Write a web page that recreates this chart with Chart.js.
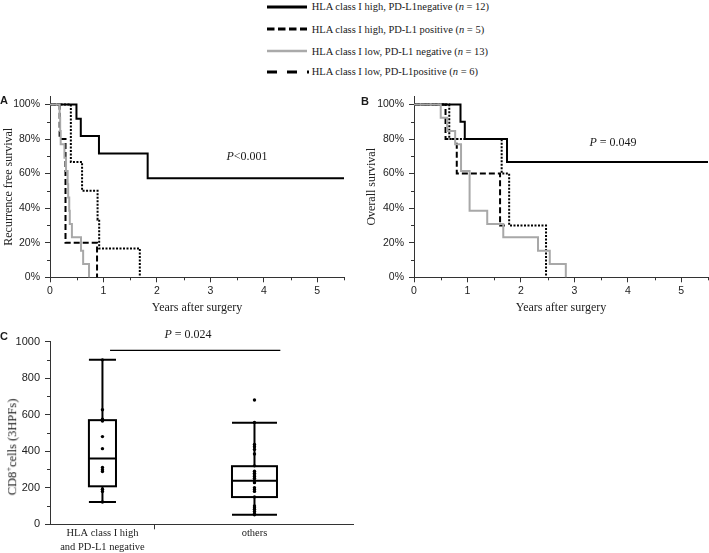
<!DOCTYPE html>
<html>
<head>
<meta charset="utf-8">
<script src="https://cdn.jsdelivr.net/npm/chart.js"></script>
<style>
  body { margin: 0; background: #fff; }
  #wrap { position: relative; width: 709px; height: 553px; overflow: hidden;
          font-family: "Liberation Serif", "Times New Roman", serif; color: #1a1a1a; }
  canvas { position: absolute; }
  .txt { position: absolute; white-space: nowrap; line-height: 1; transform: translate(-50%, -50%); }
  .panel { font-family: "Liberation Sans", Arial, sans-serif; font-weight: bold; font-size: 11px; }
  .pval { font-size: 12px; }
  .leg { position: absolute; left: 267px; height: 14px; display: flex; align-items: center; font-size: 10.5px; white-space: nowrap; }
  .leg svg { flex: none; }
</style>
</head>
<body>
<div id="wrap">
  <div id="legend"></div>

  <canvas id="chartA" width="355" height="234" style="left:0;top:85px"></canvas>
  <canvas id="chartB" width="354" height="234" style="left:355px;top:85px"></canvas>
  <canvas id="chartC" width="360" height="223" style="left:0;top:330px"></canvas>

  <div class="txt panel" style="left:4px;top:100px">A</div>
  <div class="txt panel" style="left:365px;top:101px">B</div>
  <div class="txt panel" style="left:4px;top:336px">C</div>

  <div class="txt pval" style="left:247px;top:156px"><i>P</i>&lt;0.001</div>
  <div class="txt pval" style="left:613px;top:142px"><i>P</i> = 0.049</div>
  <div class="txt pval" style="left:188px;top:334px"><i>P</i> = 0.024</div>

  <div class="txt" style="left:12px;top:447px;font-size:12.5px;transform:translate(-50%,-50%) rotate(-90deg)">CD8<sup style="font-size:8px">+</sup>cells (3HPFs)</div>
</div>

<script>
// legend
const legendLabels = [
  "HLA class I high, PD-L1negative",
  "HLA class I high, PD-L1 positive",
  "HLA class I low, PD-L1 negative",
  "HLA class I low, PD-L1positive"
];
const legendN = [12, 5, 13, 6];

// A: recurrence free survival (years, %)
const rfsHighNegT = [0, 0.495, 0.576, 0.916, 1.827, 5.5];
const rfsHighNeg  = [100, 91.7, 81.8, 71.6, 57.3, 57.3];
const rfsHighPosT = [0, 0.18, 0.29, 0.88];
const rfsHighPos  = [100, 80, 20, 0];
const rfsLowNegT  = [0, 0.18, 0.19, 0.20, 0.27, 0.30, 0.33, 0.34, 0.36, 0.37, 0.41, 0.58, 0.62, 0.73];
const rfsLowNeg   = [100, 92.3, 84.6, 76.9, 69.2, 61.5, 53.8, 46.2, 38.5, 30.8, 23.1, 15.4, 7.7, 0];
const rfsLowPosT  = [0, 0.39, 0.60, 0.89, 0.92, 1.68];
const rfsLowPos   = [100, 66.7, 50, 33.3, 16.7, 0];

// B: overall survival (years, %)
const osHighNegT = [0, 0.87, 0.95, 1.74, 5.5];
const osHighNeg  = [100, 90, 80, 66.7, 66.7];
const osHighPosT = [0, 0.59, 0.80, 1.61, 1.70];
const osHighPos  = [100, 80, 60, 30, 30];
const osLowNegT  = [0, 0.50, 0.62, 0.77, 0.88, 1.04, 1.37, 1.67, 2.32, 2.54, 2.84];
const osLowNeg   = [100, 92.3, 84.6, 76.9, 61.5, 38.5, 30.8, 23.1, 15.4, 7.7, 0];
const osLowPosT  = [0, 0.66, 1.64, 1.78, 2.47];
const osLowPos   = [100, 80, 60, 30, 0];

const yearTicks = [0, 1, 2, 3, 4, 5];
const yearMinor = [0.5, 1.5, 2.5, 3.5, 4.5, 5.5];
const survTicks = [0, 20, 40, 60, 80, 100];
const survMinor = [10, 30, 50, 70, 90];

// C: CD8+ cells
const groups = [["HLA class I high", "and PD-L1 negative"], ["others"]];
const groupPos = [1, 2];
const boxMin    = [122, 52];
const boxQ1     = [208, 149];
const boxMedian = [360, 238];
const boxQ3     = [570, 318];
const boxMax    = [900, 556];
const cd8HighNeg = [900, 627, 575, 565, 480, 414, 311, 299, 289, 192, 180, 122];
const cd8Others  = [680, 557, 437, 425, 410, 385, 320, 290, 280, 270, 262, 252,
                    240, 228, 200, 190, 180, 150, 100, 90, 82, 70, 58, 52];
const cd8Ticks = [0, 200, 400, 600, 800, 1000];
const cd8Minor = [100, 300, 500, 700, 900];
const sigBarX = [1.05, 2.17];
const sigBarY = 952;

const boxWidths = [0.178, 0.296];
const axisColor = "#333";
const textColor = "#222";
const sansTick = { family: "Liberation Sans", size: 10.5 };
const serifTitle = { family: "Liberation Serif", size: 12 };

// legend rows
const legendStyles = [
  { color: "#000", width: 3, dash: "", len: 40 },
  { color: "#000", width: 3, dash: "7.5 3.5", len: 40 },
  { color: "#aaa", width: 2.5, dash: "", len: 40 },
  { color: "#000", width: 3, dash: "10 10", len: 42 }
];
const legendY = [6.7, 29, 51, 71.7];
document.getElementById("legend").innerHTML = legendLabels.map((l, i) => {
  const s = legendStyles[i];
  return `<div class="leg" style="top:${legendY[i] - 7}px">
    <svg width="44" height="6"><line x1="0" y1="3" x2="${s.len}" y2="3" stroke="${s.color}" stroke-width="${s.width}" stroke-dasharray="${s.dash}"/></svg>
    <span style="margin-left:0.7px">${l} (<i>n</i> = ${legendN[i]})</span></div>`;
}).join("");

function steps(t, s) {
  return t.map((x, i) => ({ x, y: s[i] }));
}

// extra (minor) tick marks, drawn outward from the axis
function extraTicks(list) {
  return {
    id: "extraTicks",
    afterDraw(chart) {
      const ctx = chart.ctx;
      ctx.save();
      ctx.strokeStyle = axisColor;
      ctx.lineWidth = 1;
      list.forEach(m => {
        const s = chart.scales[m.axis];
        m.values.forEach(v => {
          const p = Math.round(s.getPixelForValue(v)) + 0.5;
          ctx.beginPath();
          if (s.isHorizontal()) {
            ctx.moveTo(p, s.top);
            ctx.lineTo(p, s.top + m.len);
          } else {
            ctx.moveTo(s.right, p);
            ctx.lineTo(s.right - m.len, p);
          }
          ctx.stroke();
        });
      });
      ctx.restore();
    }
  };
}

function drawKm(id, yTitle, yWidth, titlePad, padRight, sets) {
  const styles = [
    { borderColor: "#000", borderDash: [], order: 1 },
    { borderColor: "#000", borderDash: [6, 3], order: 2 },
    { borderColor: "#a8a8a8", borderDash: [], order: 0 },
    { borderColor: "#000", borderDash: [2, 1.5], order: 3 }
  ];
  new Chart(document.getElementById(id), {
    type: "line",
    data: {
      datasets: sets.map((d, i) => ({
        data: d,
        borderWidth: 2,
        stepped: "before",
        pointRadius: 0,
        clip: false,
        ...styles[i]
      }))
    },
    plugins: [extraTicks([
      { axis: "x", values: yearMinor, len: 3 },
      { axis: "y", values: survMinor, len: 3 }
    ])],
    options: {
      responsive: false,
      animation: false,
      layout: { padding: { top: 9, right: padRight, left: 0, bottom: 0 } },
      plugins: { legend: { display: false }, tooltip: { enabled: false } },
      scales: {
        x: {
          type: "linear", min: 0, max: 5.5,
          afterBuildTicks: s => { s.ticks = yearTicks.map(v => ({ value: v })); },
          afterFit: s => { s.height = 41.7; },
          grid: { drawOnChartArea: false, tickLength: 5, tickColor: axisColor },
          border: { color: axisColor, width: 1 },
          ticks: { padding: 3, color: textColor, font: sansTick, maxRotation: 0 },
          title: { display: true, text: "Years after surgery", color: textColor, font: serifTitle, padding: { top: 0, bottom: 4 } }
        },
        y: {
          type: "linear", min: 0, max: 104.7,
          afterBuildTicks: s => { s.ticks = survTicks.map(v => ({ value: v })); },
          afterFit: s => { s.width = yWidth; },
          grid: { drawOnChartArea: false, tickLength: 5, tickColor: axisColor },
          border: { color: axisColor, width: 1 },
          ticks: { padding: 5, color: textColor, font: sansTick, callback: v => v + "%" },
          title: { display: true, text: yTitle, color: textColor, font: serifTitle, padding: { top: titlePad, bottom: 0 } }
        }
      }
    }
  });
}

drawKm("chartA", "Recurrence free survival", 50, 1.3, 11, [
  steps(rfsHighNegT, rfsHighNeg),
  steps(rfsHighPosT, rfsHighPos),
  steps(rfsLowNegT, rfsLowNeg),
  steps(rfsLowPosT, rfsLowPos)
]);

drawKm("chartB", "Overall survival", 59, 9.5, 1, [
  steps(osHighNegT, osHighNeg),
  steps(osHighPosT, osHighPos),
  steps(osLowNegT, osLowNeg),
  steps(osLowPosT, osLowPos)
]);

// box, whiskers and median for panel C
const boxPlot = {
  id: "boxPlot",
  beforeDatasetsDraw(chart) {
    const { ctx, scales: { x, y } } = chart;
    ctx.save();
    ctx.strokeStyle = "#000";
    ctx.lineWidth = 2;
    groupPos.forEach((g, i) => {
      const cx = x.getPixelForValue(g);
      const l = x.getPixelForValue(g - boxWidths[i] / 2);
      const r = x.getPixelForValue(g + boxWidths[i] / 2);
      const yMin = y.getPixelForValue(boxMin[i]);
      const yQ1 = y.getPixelForValue(boxQ1[i]);
      const yMed = y.getPixelForValue(boxMedian[i]);
      const yQ3 = y.getPixelForValue(boxQ3[i]);
      const yMax = y.getPixelForValue(boxMax[i]);
      ctx.beginPath();
      ctx.moveTo(cx, yMax); ctx.lineTo(cx, yQ3);
      ctx.moveTo(cx, yQ1); ctx.lineTo(cx, yMin);
      ctx.moveTo(l, yMax); ctx.lineTo(r, yMax);
      ctx.moveTo(l, yMin); ctx.lineTo(r, yMin);
      ctx.moveTo(l, yMed); ctx.lineTo(r, yMed);
      ctx.stroke();
      ctx.strokeRect(l, yQ3, r - l, yQ1 - yQ3);
    });
    ctx.restore();
  }
};

new Chart(document.getElementById("chartC"), {
  type: "scatter",
  data: {
    datasets: [
      { data: cd8HighNeg.map(v => ({ x: groupPos[0], y: v })), backgroundColor: "#000", borderWidth: 0, pointRadius: 1.7 },
      { data: cd8Others.map(v => ({ x: groupPos[1], y: v })), backgroundColor: "#000", borderWidth: 0, pointRadius: 1.7 },
      { type: "line", data: sigBarX.map(x => ({ x, y: sigBarY })), borderColor: "#000", borderWidth: 1.4, pointRadius: 0 }
    ]
  },
  plugins: [boxPlot, extraTicks([
    { axis: "y", values: cd8Minor, len: 3 },
    { axis: "x", values: [1.339], len: 5 }
  ])],
  options: {
    responsive: false,
    animation: false,
    layout: { padding: { top: 6.7, right: 7, left: 0, bottom: 0 } },
    plugins: { legend: { display: false }, tooltip: { enabled: false } },
    scales: {
      x: {
        type: "linear", min: 0.655, max: 2.648,
        afterBuildTicks: s => { s.ticks = groupPos.map(v => ({ value: v })); },
        afterFit: s => { s.height = 28.7; },
        grid: { display: false, drawTicks: false },
        border: { color: axisColor, width: 1 },
        ticks: {
          padding: 2, color: textColor, maxRotation: 0,
          font: { family: "Liberation Serif", size: 10.5, lineHeight: 1.33 },
          callback: (v, i) => groups[i]
        }
      },
      y: {
        type: "linear", min: 0, max: 1000,
        afterBuildTicks: s => { s.ticks = cd8Ticks.map(v => ({ value: v })); },
        afterFit: s => { s.width = 50; },
        grid: { drawOnChartArea: false, tickLength: 5, tickColor: axisColor },
        border: { color: axisColor, width: 1 },
        ticks: { padding: 5, color: textColor, font: { family: "Liberation Sans", size: 11 }, callback: v => String(v) }
      }
    }
  }
});
</script>
</body>
</html>
